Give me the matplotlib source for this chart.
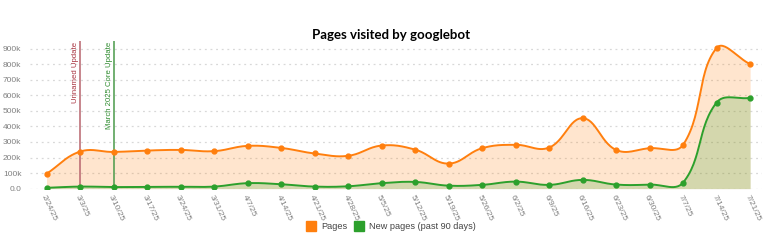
import numpy as np
import matplotlib
matplotlib.use("Agg")
import matplotlib.pyplot as plt
from matplotlib.lines import Line2D

# data
weeks = ["2/24/25", "3/3/25", "3/10/25", "3/17/25", "3/24/25", "3/31/25", "4/7/25",
         "4/14/25", "4/21/25", "4/28/25", "5/5/25", "5/12/25", "5/19/25", "5/26/25",
         "6/2/25", "6/9/25", "6/16/25", "6/23/25", "6/30/25", "7/7/25", "7/14/25", "7/21/25"]
pages = [95000, 238000, 236000, 245000, 249000, 241000, 275000, 262000, 226000, 211000,
         277000, 251000, 161000, 260000, 282000, 264000, 453000, 249000, 260000, 282000,
         905000, 801000]
new_pages = [5000, 13000, 10000, 11000, 12000, 13000, 35000, 28000, 13000, 15000,
             35000, 43000, 19000, 24000, 45000, 24000, 56000, 26000, 26000, 39000,
             554000, 584000]
events = ["Unnamed Update", "March 2025 Core Update"]
event_weeks = ["3/3/25", "3/10/25"]

ORANGE = "#ff7f0e"
GREEN = "#2ca02c"
event_colors = ["#a8323f", "#2e8b2e"]
event_line_colors = ["#b8646e", "#4a9a4a"]

plt.rcParams['font.family'] = ['Liberation Sans', 'DejaVu Sans']


def spline(ys, tension=0.4, sx=33.57, sy=15.52 / 100000, n=30):
    # chart.js style bezier smoothing, computed in pixel space
    x = np.arange(len(ys)) * sx
    y = np.array(ys, dtype=float) * sy
    k = len(x)
    cp_prev = np.zeros((k, 2))
    cp_next = np.zeros((k, 2))
    for i in range(k):
        p = (x[max(i - 1, 0)], y[max(i - 1, 0)])
        c = (x[i], y[i])
        nx = (x[min(i + 1, k - 1)], y[min(i + 1, k - 1)])
        d01 = np.hypot(c[0] - p[0], c[1] - p[1])
        d12 = np.hypot(nx[0] - c[0], nx[1] - c[1])
        tot = d01 + d12
        s01 = d01 / tot if tot else 0
        s12 = d12 / tot if tot else 0
        fa = tension * s01
        fb = tension * s12
        cp_prev[i] = (c[0] - fa * (nx[0] - p[0]), c[1] - fa * (nx[1] - p[1]))
        cp_next[i] = (c[0] + fb * (nx[0] - p[0]), c[1] + fb * (nx[1] - p[1]))
    t = np.linspace(0, 1, n)[:, None]
    out = []
    for i in range(k - 1):
        p0 = np.array([x[i], y[i]])
        p3 = np.array([x[i + 1], y[i + 1]])
        b = ((1 - t) ** 3 * p0 + 3 * (1 - t) ** 2 * t * cp_next[i]
             + 3 * (1 - t) * t ** 2 * cp_prev[i + 1] + t ** 3 * p3)
        out.append(b if i == 0 else b[1:])
    out = np.vstack(out)
    return out[:, 0] / sx, out[:, 1] / sy


fig = plt.figure(figsize=(7.83, 2.44), dpi=100)
ax = fig.add_axes([0.038, 0.227, 0.935, 0.605])

idx = np.arange(len(weeks))

px, py = spline(pages)
gx, gy = spline(new_pages)

ax.fill_between(px, 0, py, color=ORANGE, alpha=0.2, lw=0, zorder=1)
ax.fill_between(gx, 0, gy, color=GREEN, alpha=0.2, lw=0, zorder=2)
ax.plot(px, py, color=ORANGE, lw=1.4, zorder=4)
ax.plot(gx, gy, color=GREEN, lw=1.4, zorder=4)
ax.plot(idx, pages, "o", color=ORANGE, ms=3.5, zorder=5)
ax.plot(idx, new_pages, "o", color=GREEN, ms=3.5, zorder=5)

# update annotations
for name, wk, c, lc in zip(events, event_weeks, event_colors, event_line_colors):
    xi = weeks.index(wk)
    ax.axvline(xi, color=lc, lw=1.1, zorder=3)
    ax.text(xi - 0.12, 945000, name, rotation=90, ha="center", va="top",
            fontsize=5.6, color=c, zorder=6)

ax.set_xlim(-0.5, 21.35)
ax.set_ylim(0, 950000)
ax.set_yticks(np.arange(0, 900001, 100000))
ax.set_yticklabels(["0.0"] + [f"{v}k" for v in range(100, 901, 100)])
ax.set_xticks(idx)
ax.set_xticklabels(weeks, rotation=-65, ha="left", va="top", rotation_mode="anchor")

ax.grid(axis="y", color="#d8d8d8", linestyle=(0, (1.5, 3)), lw=0.9)
ax.set_axisbelow(True)
for s in ax.spines.values():
    s.set_visible(False)
ax.tick_params(axis="both", length=0, labelsize=6, labelcolor="#808080")
ax.tick_params(axis="y", pad=6)
ax.tick_params(axis="x", pad=4)

fig.text(0.5, 0.855, "Pages visited by googlebot", ha="center", va="center",
         fontsize=9.5, fontweight="bold", family=["Lato", "DejaVu Sans"])

handles = [Line2D([], [], marker="s", ls="", color=ORANGE, ms=6.5),
           Line2D([], [], marker="s", ls="", color=GREEN, ms=6.5)]
fig.legend(handles, ["Pages", "New pages (past 90 days)"], loc="center",
           bbox_to_anchor=(0.5, 0.07), ncol=2, frameon=False, fontsize=6.6,
           handlelength=0.8, handletextpad=0.7, columnspacing=0.9,
           labelcolor="#444444")

fig.savefig("out.png", dpi=100)
